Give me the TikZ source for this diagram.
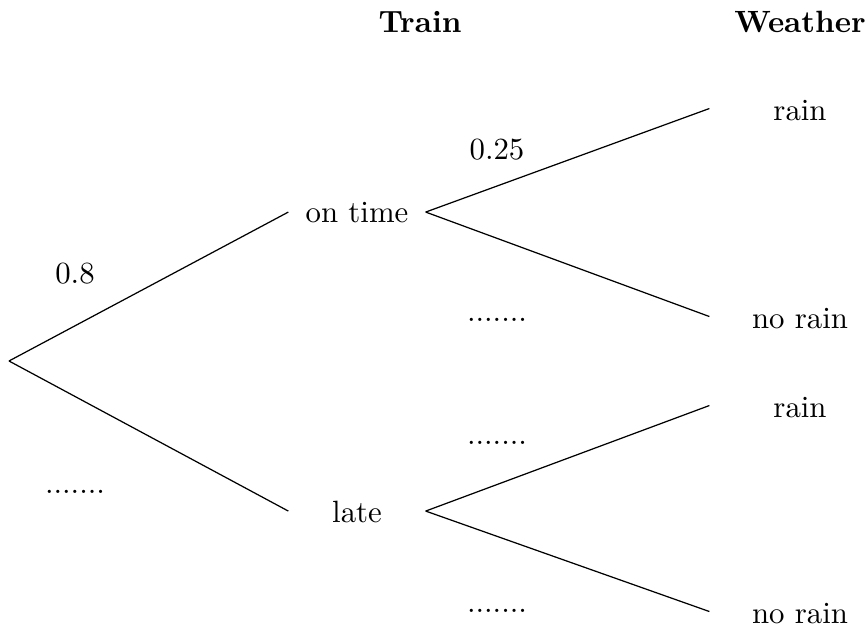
\documentclass[tikz,border=0pt]{standalone}
\begin{document}
\begin{tikzpicture}[x=0.3247pt,y=-0.3247pt,
  mid/.style={inner sep=0pt,minimum width=44.2pt,minimum height=6pt},
  leaf/.style={inner sep=0pt,minimum width=58.45pt,minimum height=6pt},
  lbl/.style={inner sep=0pt},
  head/.style={inner sep=0pt,font=\bfseries},
  branch/.style={line width=0.4pt}]
\useasboundingbox (0,0) rectangle (868,628);
\coordinate (root) at (9,361);
\node[mid] (ontime) at (357,213) {on time};
\node[mid] (late) at (357,512) {late};
\node[leaf] (r1) at (800,111) {rain};
\node[leaf] (n1) at (800,319) {no rain};
\node[leaf] (r2) at (800,408) {rain};
\node[leaf] (n2) at (800,614) {no rain};
\draw[branch] (root) -- ([yshift=0.3pt]ontime.west);
\draw[branch] (root) -- ([yshift=0.3pt]late.west);
\draw[branch] ([yshift=0.3pt]ontime.east) -- ([yshift=0.8pt]r1.west);
\draw[branch] ([yshift=0.3pt]ontime.east) -- ([yshift=0.8pt]n1.west);
\draw[branch] ([yshift=0.3pt]late.east) -- ([yshift=0.8pt]r2.west);
\draw[branch] ([yshift=0.3pt]late.east) -- ([yshift=0.8pt]n2.west);
\node[lbl] (p1) at (75,274) {0.8};
\node[lbl] (p2) at (75,492) {.......};
\node[lbl] (p3) at (497,150) {0.25};
\node[lbl] (p4) at (497,320) {.......};
\node[lbl] (p5) at (497,443) {.......};
\node[lbl] (p6) at (497,611) {.......};
\node[head] (htrain) at (420,22) {Train};
\node[head] (hweather) at (800,22) {Weather};
\end{tikzpicture}
\end{document}
